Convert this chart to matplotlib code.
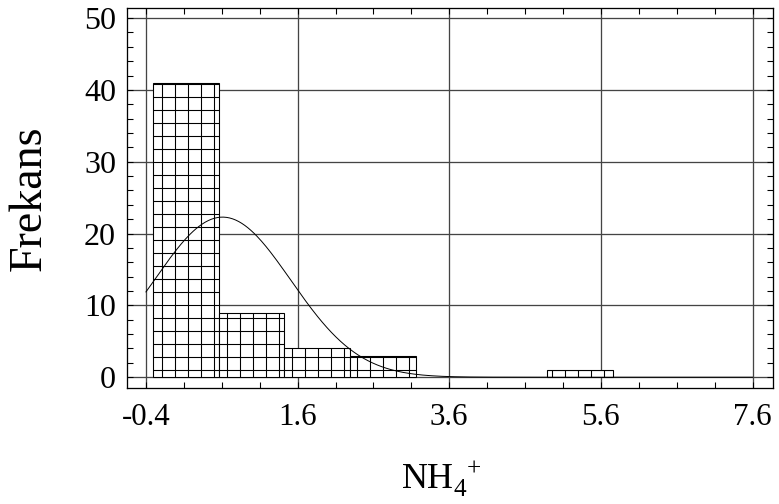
import numpy as np
import matplotlib
matplotlib.use("Agg")
import matplotlib.pyplot as plt
from matplotlib.ticker import MultipleLocator, FixedLocator

# ---- data ----
counts = [41, 9, 4, 3, 0, 0, 1]
bin_start = -0.31
bin_width = 0.867
fit_mean = 0.61
fit_sd = 0.90
x_ticks = [-0.4, 1.6, 3.6, 5.6, 7.6]
x_tick_labels = ["-0.4", "1.6", "3.6", "5.6", "7.6"]
y_ticks = [0, 10, 20, 30, 40, 50]
y_label = "Frekans"
x_label = r"$\mathregular{NH_4^{\ +}}$"

DPI = 78
W, H = 779, 504
def px(p):
    return p * 72.0 / DPI

plt.rcParams['font.family'] = ['Liberation Serif', 'DejaVu Serif']
plt.rcParams['mathtext.fontset'] = 'custom'
plt.rcParams['mathtext.rm'] = 'Liberation Serif'
plt.rcParams['hatch.linewidth'] = 1.0

fig = plt.figure(figsize=(W / DPI, H / DPI), dpi=DPI)
ax = fig.add_axes([127 / W, 1 - 388 / H, (773 - 127) / W, (388 - 8) / H])

ax.set_xlim(-0.65, 7.87)
ax.set_ylim(-1.5, 51.4)

# grid
for xv in x_ticks:
    ax.axvline(xv, color='#444444', lw=1.2, zorder=1)
for yv in y_ticks:
    ax.axhline(yv, color='#444444', lw=1.2, zorder=1)

# histogram bars
lefts = [bin_start + i * bin_width for i in range(len(counts))]
for l, c in zip(lefts, counts):
    if c > 0:
        ax.bar(l, c, width=bin_width, align='edge', facecolor='white',
               edgecolor='black', hatch='+', linewidth=1.0, zorder=2)

# fitted normal curve
total = sum(counts)
xs = np.linspace(-0.4, 7.6, 400)
ys = total * bin_width / (fit_sd * np.sqrt(2 * np.pi)) * np.exp(-0.5 * ((xs - fit_mean) / fit_sd) ** 2)
ax.plot(xs, ys, color='black', lw=0.9, zorder=3)

ax.xaxis.set_major_locator(FixedLocator(x_ticks))
ax.set_xticklabels(x_tick_labels)
ax.yaxis.set_major_locator(FixedLocator(y_ticks))
ax.xaxis.set_minor_locator(FixedLocator(np.arange(-0.4, 7.61, 0.5)))
ax.yaxis.set_minor_locator(MultipleLocator(2))

ax.tick_params(axis='both', which='both', direction='in', top=True, right=True,
               color='black', width=1.0)
ax.tick_params(which='major', length=px(6))
ax.tick_params(which='minor', length=px(6))
ax.tick_params(axis='x', which='major', pad=px(15), labelsize=px(31))
ax.tick_params(axis='y', which='major', pad=px(11), labelsize=px(32))

for s in ax.spines.values():
    s.set_color('black')
    s.set_linewidth(1.2)

ax.set_ylabel(y_label, fontsize=px(46), labelpad=px(33))
ax.set_xlabel(x_label, fontsize=px(36), labelpad=px(26), x=(441 - 127) / (773 - 127))

fig.savefig("out.png", dpi=DPI)
